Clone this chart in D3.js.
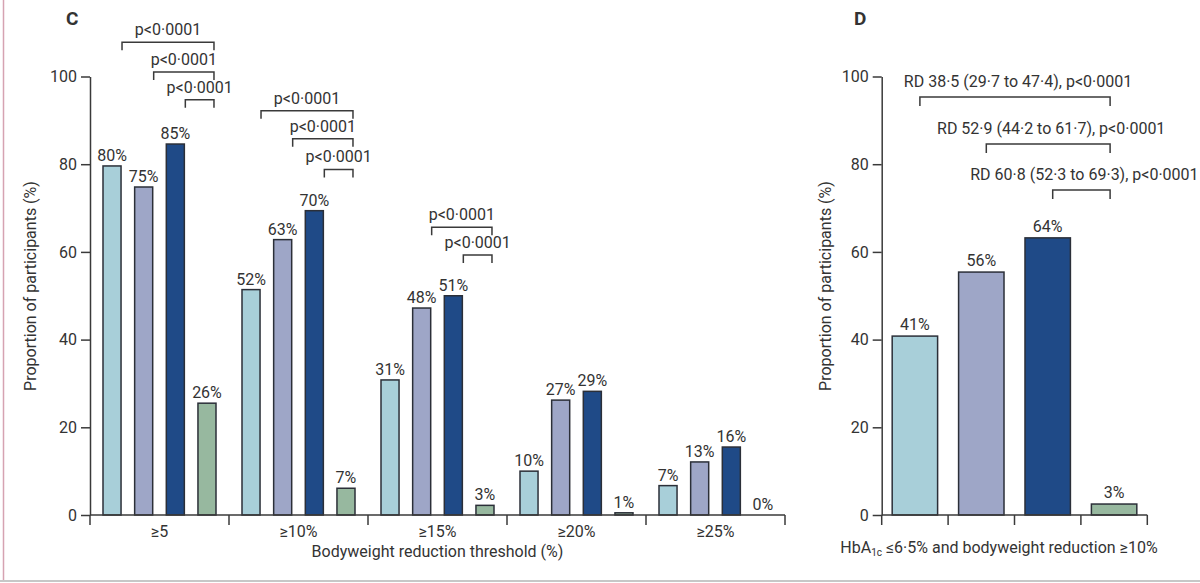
<!DOCTYPE html>
<html>
<head>
<meta charset="utf-8">
<script src="https://cdn.jsdelivr.net/npm/d3@7"></script>
<style>
  body { margin: 0; background: #fff; }
  text { font-family: Roboto, sans-serif; fill: #333; }
</style>
</head>
<body>
<script>
// panel C: proportion reaching each bodyweight reduction threshold
var thresholds = ['≥5', '≥10%', '≥15%', '≥20%', '≥25%'];
var seriesA = [79.6, 51.4, 30.8, 10.0, 6.7];
var seriesB = [74.8, 62.8, 47.2, 26.2, 12.1];
var seriesC = [84.6, 69.4, 50.0, 28.2, 15.5];
var seriesD = [25.5, 6.1, 2.2, 0.5, 0];
var labelsA = ['80%', '52%', '31%', '10%', '7%'];
var labelsB = ['75%', '63%', '48%', '27%', '13%'];
var labelsC = ['85%', '70%', '51%', '29%', '16%'];
var labelsD = ['26%', '7%', '3%', '1%', '0%'];

// brackets: [group, from series, to series, level in %]
var bracketsC = [
  [0, 0, 3, 107.8], [0, 1, 3, 101.0], [0, 2, 3, 94.7],
  [1, 0, 3, 92.2], [1, 1, 3, 85.8], [1, 2, 3, 78.8],
  [2, 1, 3, 65.6], [2, 2, 3, 59.3]
];

// panel D: HbA1c <=6.5% and bodyweight reduction >=10%
var valuesD = [40.8, 55.4, 63.2, 2.5];
var labelsPanelD = ['41%', '56%', '64%', '3%'];
var bracketsD = [
  [0, 3, 95.3, 'RD 38·5 (29·7 to 47·4), p<0·0001'],
  [1, 3, 84.6, 'RD 52·9 (44·2 to 61·7), p<0·0001'],
  [2, 3, 74.1, 'RD 60·8 (52·3 to 69·3), p<0·0001']
];

var yTicks = [0, 20, 40, 60, 80, 100];
var colors = ['#a8cfd9', '#9ea6c7', '#1f4a87', '#97b89f'];
var ink = '#3a3a3a';
var fs = '16px';

var W = 1200, H = 583;
var svg = d3.select('body').append('svg')
  .attr('width', W).attr('height', H);

// page frame bits
svg.append('line').attr('x1', 3.5).attr('x2', 3.5).attr('y1', 0).attr('y2', 580)
  .attr('stroke', '#d6a3b2').attr('stroke-width', 1.5);
svg.append('line').attr('x1', 0).attr('x2', W).attr('y1', 581).attr('y2', 581)
  .attr('stroke', '#b5b5b5').attr('stroke-width', 1.5);

var y = d3.scaleLinear().domain([0, 100]).range([515, 76.5]);

function drawYAxis(xPos, labelX) {
  var g = svg.append('g').attr('transform', 'translate(' + xPos + ',0)')
    .call(d3.axisLeft(y).tickValues(yTicks).tickSize(9).tickSizeOuter(0).tickPadding(4));
  g.select('.domain').attr('stroke', ink).attr('stroke-width', 1.5);
  g.selectAll('.tick line').attr('stroke', ink).attr('stroke-width', 1.5);
  g.selectAll('.tick text').style('font-size', fs).style('font-family', 'Roboto, sans-serif').attr('fill', '#333');
  svg.append('text')
    .attr('transform', 'translate(' + labelX + ',' + 286 + ') rotate(-90)')
    .attr('text-anchor', 'middle')
    .style('font-size', fs)
    .text('Proportion of participants (%)');
}

function drawBracket(x1, x2, yy, drop, label, tx, offset) {
  svg.append('path')
    .attr('d', 'M' + x1 + ',' + (yy + drop) + 'V' + yy + 'H' + x2 + 'V' + (yy + drop))
    .attr('fill', 'none').attr('stroke', ink).attr('stroke-width', 1.5);
  svg.append('text')
    .attr('x', tx).attr('y', yy - offset)
    .attr('text-anchor', 'middle')
    .style('font-size', fs)
    .text(label);
}

// ---- panel C ----
var x0 = d3.scaleBand().domain(thresholds).range([90, 785]);
var x1 = d3.scaleBand().domain([0, 1, 2, 3])
  .range([13, 126]).paddingInner(0.43).paddingOuter(0);

var allSeries = [seriesA, seriesB, seriesC, seriesD];
var allLabels = [labelsA, labelsB, labelsC, labelsD];

function centerC(gi, si) {
  return x0(thresholds[gi]) + x1(si) + x1.bandwidth() / 2;
}

var bars = [];
thresholds.forEach(function(t, gi) {
  allSeries.forEach(function(s, si) {
    bars.push({ g: gi, s: si, v: s[gi], label: allLabels[si][gi] });
  });
});

svg.selectAll('rect.c')
  .data(bars.filter(function(d) { return d.v > 0; }))
  .enter().append('rect')
    .attr('class', 'c')
    .attr('x', function(d) { return x0(thresholds[d.g]) + x1(d.s); })
    .attr('y', function(d) { return y(d.v); })
    .attr('width', x1.bandwidth())
    .attr('height', function(d) { return y(0) - y(d.v); })
    .attr('fill', function(d) { return colors[d.s]; })
    .attr('stroke', '#2b2f38')
    .attr('stroke-width', 1.5);

svg.selectAll('text.cl')
  .data(bars)
  .enter().append('text')
    .attr('class', 'cl')
    .attr('x', function(d) { return centerC(d.g, d.s); })
    .attr('y', function(d) { return y(d.v) - 5; })
    .attr('text-anchor', 'middle')
    .style('font-size', fs)
    .text(function(d) { return d.label; });

drawYAxis(90, 36);

// x axis C
svg.append('line').attr('x1', 90).attr('x2', 785).attr('y1', y(0)).attr('y2', y(0))
  .attr('stroke', ink).attr('stroke-width', 1.5);
var edgesC = thresholds.map(function(t) { return x0(t); }).concat([x0.range()[1]]);
svg.selectAll('line.xtc').data(edgesC).enter().append('line')
  .attr('x1', function(d) { return d; }).attr('x2', function(d) { return d; })
  .attr('y1', y(0)).attr('y2', y(0) + 10)
  .attr('stroke', ink).attr('stroke-width', 1.5);
svg.selectAll('text.xlc').data(thresholds).enter().append('text')
  .attr('x', function(d) { return x0(d) + x0.bandwidth() / 2; })
  .attr('y', 537)
  .attr('text-anchor', 'middle')
  .style('font-size', fs)
  .text(function(d) { return d; });
svg.append('text').attr('x', (90 + 785) / 2).attr('y', 557)
  .attr('text-anchor', 'middle').style('font-size', fs)
  .text('Bodyweight reduction threshold (%)');

bracketsC.forEach(function(b) {
  var a = centerC(b[0], b[1]) + 10;
  var c = centerC(b[0], b[2]) + 7;
  drawBracket(a, c, y(b[3]), 8, 'p<0·0001', (a + c) / 2, 7);
});

svg.append('text').attr('x', 66).attr('y', 25)
  .style('font-size', '19px').style('font-weight', 'bold').attr('fill', '#222')
  .text('C');

// ---- panel D ----
var xd = d3.scaleBand().domain([0, 1, 2, 3])
  .range([881.7, 1147.3]).paddingInner(0.316).paddingOuter(0.158);

svg.selectAll('rect.d')
  .data(valuesD)
  .enter().append('rect')
    .attr('class', 'd')
    .attr('x', function(d, i) { return xd(i); })
    .attr('y', function(d) { return y(d); })
    .attr('width', xd.bandwidth())
    .attr('height', function(d) { return y(0) - y(d); })
    .attr('fill', function(d, i) { return colors[i]; })
    .attr('stroke', '#2b2f38')
    .attr('stroke-width', 1.5);

svg.selectAll('text.dl')
  .data(valuesD)
  .enter().append('text')
    .attr('x', function(d, i) { return xd(i) + xd.bandwidth() / 2; })
    .attr('y', function(d) { return y(d) - 6; })
    .attr('text-anchor', 'middle')
    .style('font-size', fs)
    .text(function(d, i) { return labelsPanelD[i]; });

drawYAxis(881.7, 831);

svg.append('line').attr('x1', 881.7).attr('x2', 1147.3).attr('y1', y(0)).attr('y2', y(0))
  .attr('stroke', ink).attr('stroke-width', 1.5);
var edgesD = [0, 1, 2, 3, 4].map(function(i) { return 881.7 + i * xd.step(); });
svg.selectAll('line.xtd').data(edgesD).enter().append('line')
  .attr('x1', function(d) { return d; }).attr('x2', function(d) { return d; })
  .attr('y1', y(0)).attr('y2', y(0) + 10)
  .attr('stroke', ink).attr('stroke-width', 1.5);

var dTitle = svg.append('text').attr('x', 999).attr('y', 553)
  .attr('text-anchor', 'middle').style('font-size', fs);
dTitle.append('tspan').text('HbA');
dTitle.append('tspan').attr('dy', 3).style('font-size', '10px').text('1c');
dTitle.append('tspan').attr('dy', -3).text(' ≤6·5% and bodyweight reduction ≥10%');

bracketsD.forEach(function(b) {
  var a = xd(b[0]) + xd.bandwidth() / 2 + 5;
  var c = xd(b[1]) + xd.bandwidth() / 2 - 4;
  drawBracket(a, c, y(b[2]), 9, b[3], (a + c) / 2 + 3, 10);
});

svg.append('text').attr('x', 854).attr('y', 25)
  .style('font-size', '19px').style('font-weight', 'bold').attr('fill', '#222')
  .text('D');
</script>
</body>
</html>
